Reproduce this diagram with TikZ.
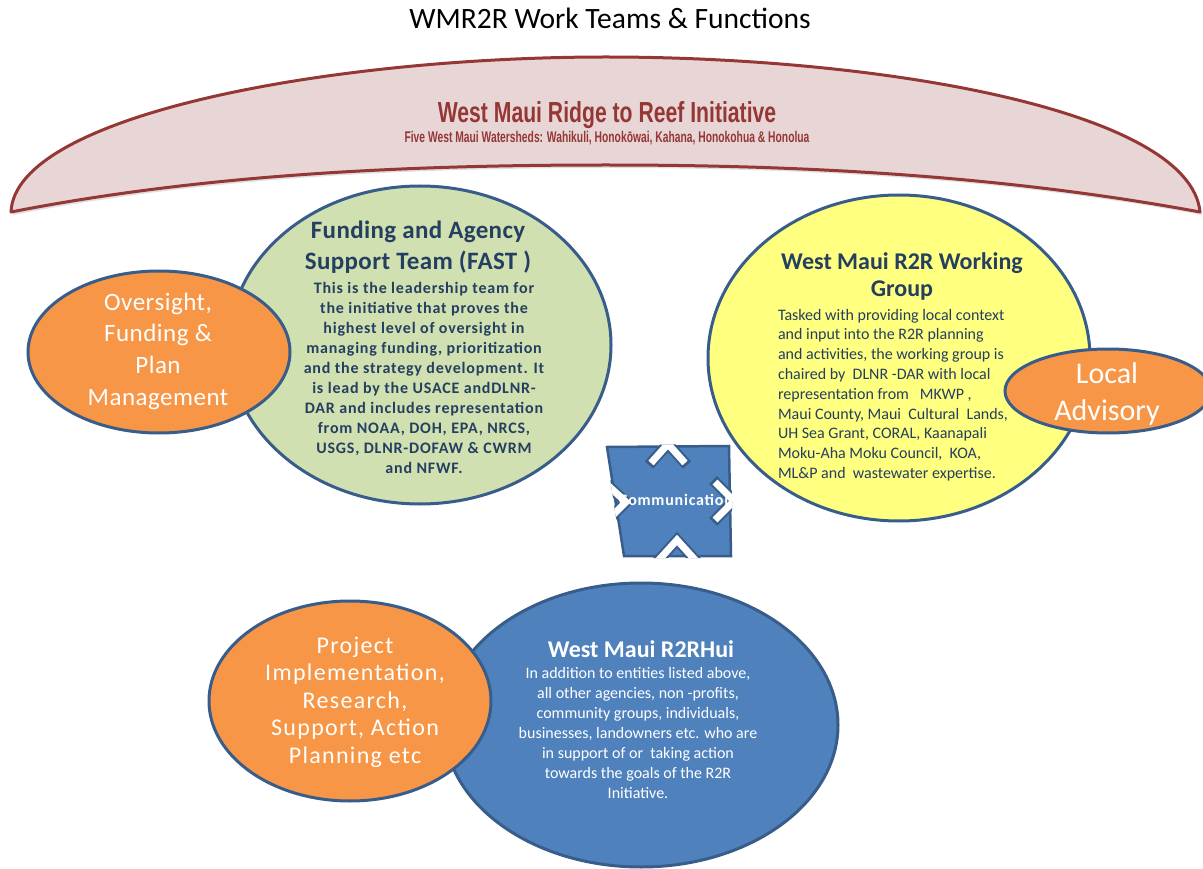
\documentclass[tikz,border=0pt]{standalone}
\usepackage{fontspec}
\setmainfont{Carlito}
\newfontfamily\agency[FakeStretch=0.73]{Liberation Sans}
\newfontfamily\agencysub[FakeStretch=0.665]{Liberation Sans}
\usetikzlibrary{shapes.geometric,shadows}

\definecolor{bannerfill}{HTML}{E8D6D6}
\definecolor{bannerred}{HTML}{953735}
\definecolor{edgeblue}{HTML}{385D8A}
\definecolor{fastgreen}{HTML}{D1E0B1}
\definecolor{wgyellow}{HTML}{FFFF80}
\definecolor{orangefill}{HTML}{F79646}
\definecolor{huiblue}{HTML}{4F81BD}
\definecolor{navy}{HTML}{243F60}

% fixed height of the first line, so that a block's top edge sits a known distance above its first baseline
\newcommand\lnstrut{\rule{0pt}{0.8em}}

\begin{document}
\begin{tikzpicture}[x=1pt,y=-1pt,
  bubble/.style={ellipse, draw=edgeblue, line width=3pt, inner sep=0pt, outer sep=0pt},
  txt/.style={inner sep=0pt, outer sep=0pt},
  block/.style={txt, anchor=north, align=center},
  band/.style={line width=#1, line cap=butt, line join=miter}
]
\useasboundingbox (0,0) rectangle (1203,869);

% heading
\node[txt, anchor=base, font=\fontsize{29.5}{32}\selectfont] (heading) at (610,29) {WMR2R Work Teams \& Functions};

% arched banner
\path[fill=bannerfill, draw=bannerred, line width=3pt, line join=round,
      drop shadow={shadow xshift=2pt, shadow yshift=-3pt, opacity=0.25}]
  (11,212) .. controls (15,115) and (330,57) .. (606,57)
           .. controls (880,57) and (1190,110) .. (1200,212)
           .. controls (1000,175) and (800,165) .. (606,165)
           .. controls (400,165) and (200,175) .. (11,212) -- cycle;
\node[txt, anchor=base, text=bannerred, font=\agency\bfseries\fontsize{29}{32}\selectfont] (bannertitle) at (607,123) {West Maui Ridge to Reef Initiative};
\node[txt, anchor=base, text=bannerred, font=\agencysub\bfseries\fontsize{15.5}{18}\selectfont] (bannersub) at (607,143) {Five West Maui Watersheds: Wahikuli, Honokōwai, Kahana, Honokohua \& Honolua};

% team bubbles
\node[bubble, fill=fastgreen, minimum width=382pt, minimum height=318pt] (fast) at (420,345) {};
\node[bubble, fill=orangefill, minimum width=262pt, minimum height=162pt] (oversight) at (159,352) {};
\node[bubble, fill=wgyellow, minimum width=382pt, minimum height=326pt] (wg) at (899,358) {};
\node[bubble, fill=orangefill, minimum width=206pt, minimum height=84pt] (local) at (1108,391) {};
\node[bubble, fill=huiblue, minimum width=394pt, minimum height=284pt] (hui) at (641,725) {};
\node[bubble, fill=orangefill, minimum width=282pt, minimum height=200pt] (project) at (350,701) {};

% communication symbol
\path[fill=huiblue, draw=edgeblue, line width=2.5pt, line join=miter]
  (607,447) -- (729,446) -- (731,556) -- (624,556) -- cycle;
\begin{scope}
  \clip (605,445) -- (731,444) -- (733,558) -- (622,558) -- cycle;
  % top
  \draw[edgeblue, band=11pt] (649,465) -- (668,444) -- (687,465);
  \draw[white, band=7pt] (651,463) -- (668,444) -- (685,463);
  % bottom
  \draw[edgeblue, band=11pt] (657,562) -- (677,540) -- (697,562);
  \draw[white, band=7pt] (657,562) -- (677,540) -- (697,562);
  % left
  \draw[edgeblue, band=11pt] (603,481) -- (626,502) -- (605,523);
  \draw[white, band=7pt] (603,481) -- (626,502) -- (605,523);
  % right
  \draw[edgeblue, band=11pt] (713,480) -- (734,501) -- (713,522);
  \draw[white, band=7pt] (715,482) -- (734,501) -- (715,520);
\end{scope}
\begin{scope}
  \clip (607,447) -- (729,446) -- (731,556) -- (624,556) -- cycle;
  \node[txt, anchor=base west, text=white, font=\bfseries\fontsize{16}{18}\selectfont\addfontfeature{LetterSpace=5}] (commtext) at (619,505) {Communication};
\end{scope}

% texts of the Funding and Agency Support Team
\node[block, text=navy, font=\bfseries\fontsize{25}{32}\selectfont\addfontfeature{LetterSpace=1.5}] (fasttitle) at (418,218)
  {\lnstrut Funding and Agency\\Support Team (FAST )};
\node[block, text=navy, font=\bfseries\fontsize{16}{20}\selectfont\addfontfeature{LetterSpace=5}] (fastbody) at (424,280.2)
  {\lnstrut This is the leadership team for\\
   the initiative that proves the\\
   highest level of oversight in\\
   managing funding, prioritization\\
   and the strategy development. It\\
   is lead by the USACE andDLNR-\\
   DAR and includes representation\\
   from NOAA, DOH, EPA, NRCS,\\
   USGS, DLNR-DOFAW \& CWRM\\
   and NFWF.};

\node[block, text=white, font=\fontsize{25}{31.7}\selectfont\addfontfeature{LetterSpace=2}] (oversighttext) at (158,290)
  {\lnstrut Oversight,\\Funding \&\\Plan\\Management};

% texts of the Working Group
\node[block, text=navy, font=\bfseries\fontsize{24}{27}\selectfont] (wgtitle) at (902,250.8)
  {\lnstrut West Maui R2R Working\\Group};
\node[txt, anchor=north west, align=left, text=navy, font=\fontsize{16}{19.8}\selectfont] (wgbody) at (778,307.2)
  {\lnstrut Tasked with providing local context\\
   and input into the R2R planning\\
   and activities, the working group is\\
   chaired by\ \ DLNR -DAR with local\\
   representation from \ \ MKWP ,\\
   Maui County, Maui\ \ Cultural\ \ Lands,\\
   UH Sea Grant, CORAL, Kaanapali\\
   Moku-Aha Moku Council,\ \ KOA,\\
   ML\&P and\ \ wastewater expertise.};

\node[block, text=white, font=\fontsize{30}{37}\selectfont] (localtext) at (1107,359)
  {\lnstrut Local\\Advisory};

% texts of the Hui
\node[txt, anchor=base, text=white, font=\bfseries\fontsize{24}{27}\selectfont] (huititle) at (641,657) {West Maui R2RHui};
\node[block, text=white, font=\fontsize{16}{20}\selectfont] (huibody) at (638,665.2)
  {\lnstrut In addition to entities listed above,\\
   all other agencies, non -profits,\\
   community groups, individuals,\\
   businesses, landowners etc. who are\\
   in support of or\ \ taking action\\
   towards the goals of the R2R\\
   Initiative.};

\node[block, text=white, font=\fontsize{24}{27.5}\selectfont\addfontfeature{LetterSpace=5.5}] (projecttext) at (355,633.8)
  {\lnstrut Project\\Implementation,\\Research,\\Support, Action\\Planning etc};

\end{tikzpicture}
\end{document}
